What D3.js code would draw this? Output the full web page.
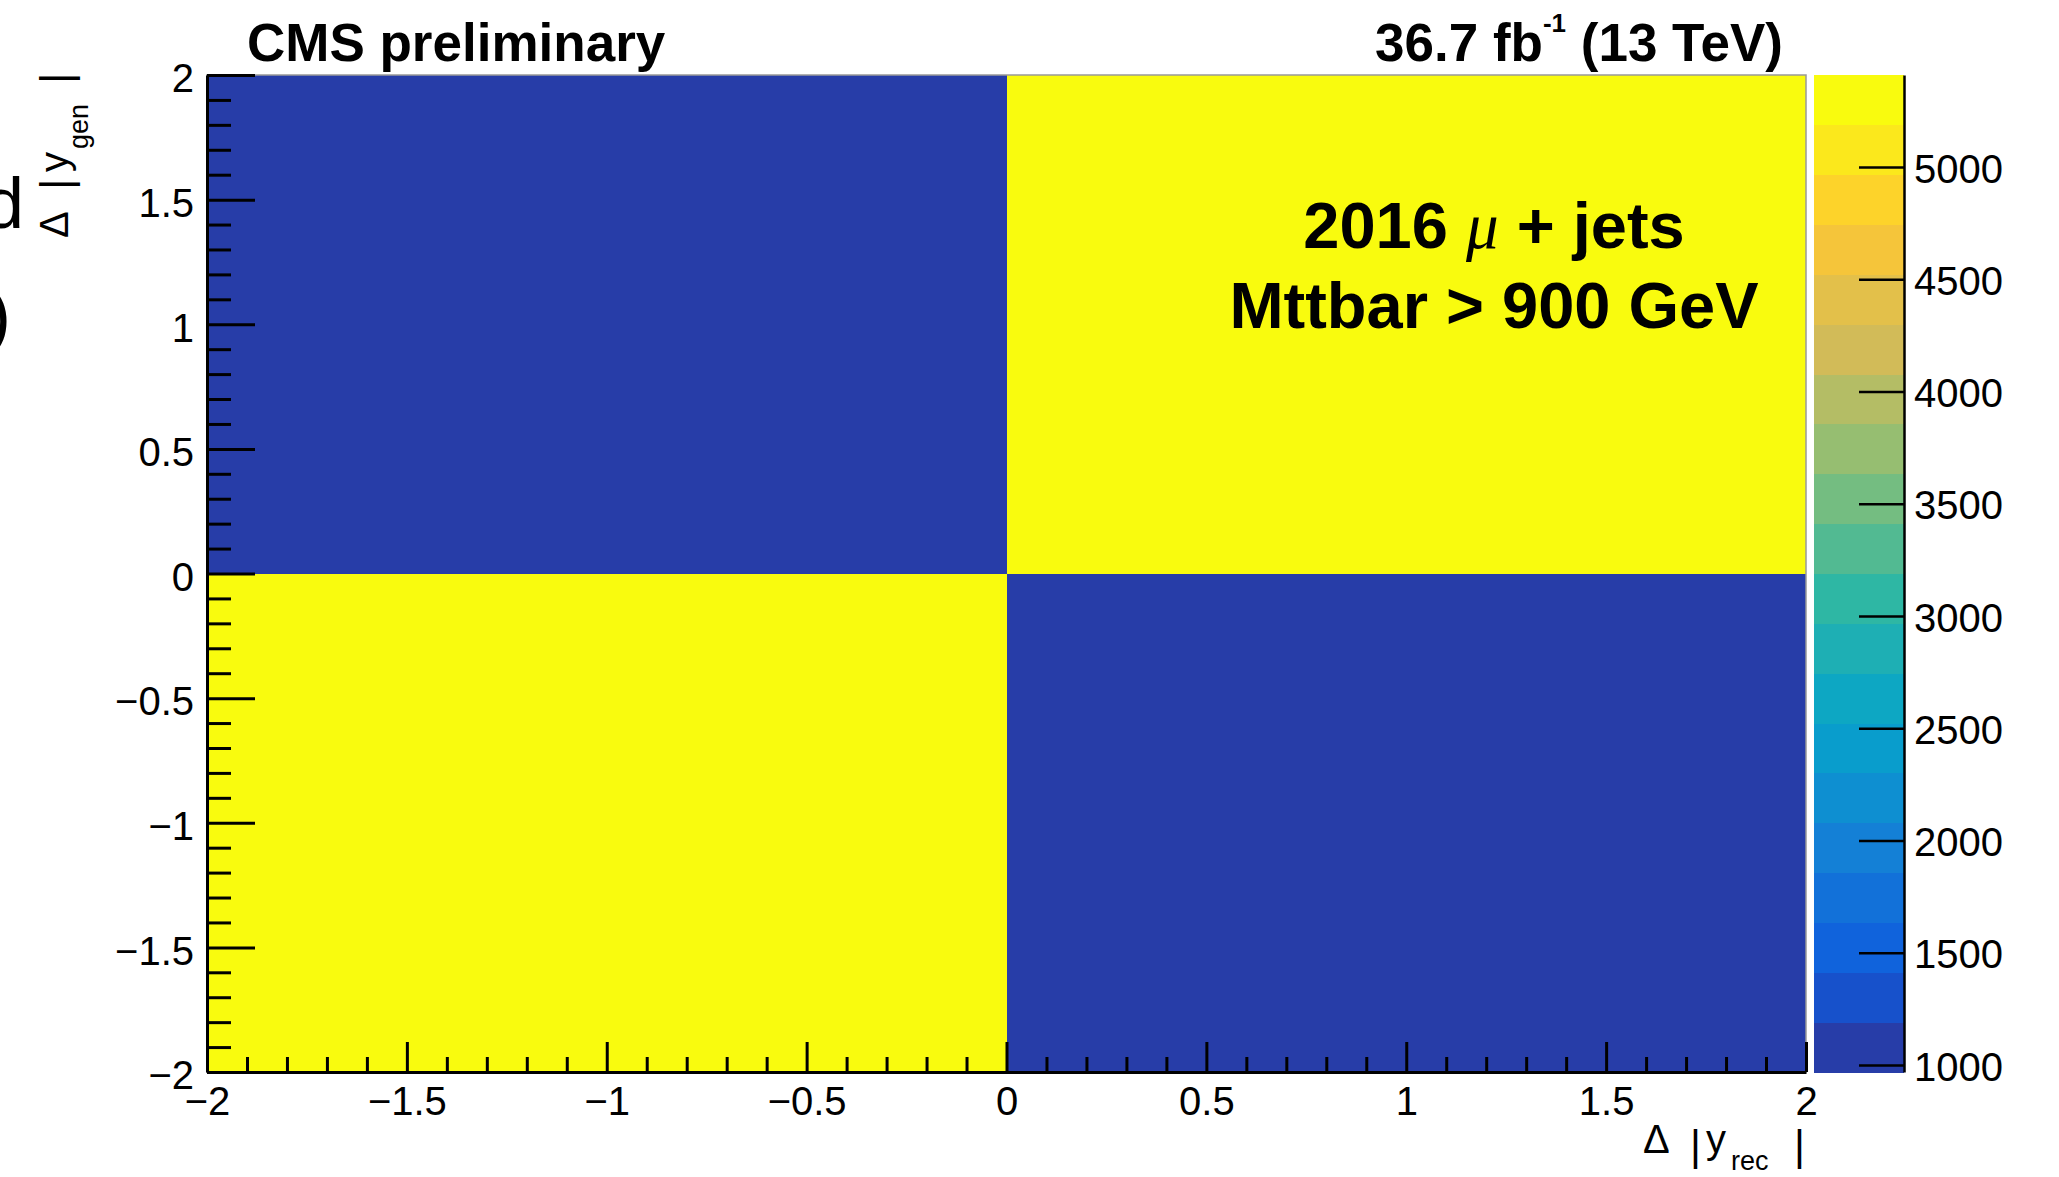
<!DOCTYPE html>
<html>
<head>
<meta charset="utf-8">
<script src="https://cdn.jsdelivr.net/npm/d3@7"></script>
<style>
  body { margin: 0; background: #fff; }
  text { font-family: "Liberation Sans", Arial, Helvetica, sans-serif; }
</style>
</head>
<body>
<script>
/* Data */
const X_EDGES = [-2, 0, 2];
const Y_EDGES = [-2, 0, 2];
// bin contents, [yBin][xBin]
const BIN_CONTENT = [
  [5410, 969],
  [969, 5410]
];
const X_TICKS = [-2, -1.5, -1, -0.5, 0, 0.5, 1, 1.5, 2];
const Y_TICKS = [-2, -1.5, -1, -0.5, 0, 0.5, 1, 1.5, 2];
const Z_TICKS = [1000, 1500, 2000, 2500, 3000, 3500, 4000, 4500, 5000];
const N_CONTOURS = 20;

/* ROOT kBird palette */
const BIRD_STOPS = [0.0, 0.125, 0.25, 0.375, 0.5, 0.625, 0.75, 0.875, 1.0];
const BIRD_R = [0.2082, 0.0592, 0.0780, 0.0232, 0.1802, 0.5301, 0.8186, 0.9956, 0.9764];
const BIRD_G = [0.1664, 0.3599, 0.5041, 0.6419, 0.7178, 0.7492, 0.7328, 0.7862, 0.9832];
const BIRD_B = [0.5293, 0.8684, 0.8385, 0.7914, 0.6425, 0.4662, 0.3499, 0.1968, 0.0539];

/* Layout */
const WIDTH = 2059;
const HEIGHT = 1177;
const PLOT_LEFT = 207, PLOT_RIGHT = 1806, PLOT_TOP = 75, PLOT_BOTTOM = 1072;
const BAR_LEFT = 1814, BAR_RIGHT = 1904;
const TICK_FONT = 40;

const bird = d3.scaleLinear()
  .domain(BIRD_STOPS)
  .range(BIRD_STOPS.map((s, i) => d3.rgb(BIRD_R[i] * 255, BIRD_G[i] * 255, BIRD_B[i] * 255).toString()))
  .interpolate(d3.interpolateRgb);

const allValues = BIN_CONTENT.flat();
const [zMin, zMax] = d3.extent(allValues);

const bandColor = (k) => {
  const idx = Math.floor((k + 0.99) * 255 / N_CONTOURS);
  return bird(Math.min(idx, 254) / 254);
};
const valueColor = (v) => {
  let k = Math.floor(0.01 + (v - zMin) * N_CONTOURS / (zMax - zMin));
  k = Math.max(0, Math.min(N_CONTOURS - 1, k));
  return bandColor(k);
};

const svg = d3.select("body").append("svg")
  .attr("width", WIDTH)
  .attr("height", HEIGHT);

const x = d3.scaleLinear().domain([-2, 2]).range([PLOT_LEFT, PLOT_RIGHT]);
const y = d3.scaleLinear().domain([-2, 2]).range([PLOT_BOTTOM, PLOT_TOP]);
const z = d3.scaleLinear().domain([zMin, zMax]).range([PLOT_BOTTOM, PLOT_TOP]);
const fmt = d3.format("~g");

/* Cells */
const cells = [];
BIN_CONTENT.forEach((row, yi) => row.forEach((v, xi) => cells.push({xi, yi, v})));
svg.append("g").selectAll("rect")
  .data(cells)
  .enter()
  .append("rect")
  .attr("x", (d) => x(X_EDGES[d.xi]))
  .attr("y", (d) => y(Y_EDGES[d.yi + 1]))
  .attr("width", (d) => x(X_EDGES[d.xi + 1]) - x(X_EDGES[d.xi]))
  .attr("height", (d) => y(Y_EDGES[d.yi]) - y(Y_EDGES[d.yi + 1]))
  .attr("fill", (d) => valueColor(d.v))
  .attr("shape-rendering", "crispEdges");

svg.append("rect")
  .attr("x", PLOT_LEFT).attr("y", PLOT_TOP)
  .attr("width", PLOT_RIGHT - PLOT_LEFT).attr("height", PLOT_BOTTOM - PLOT_TOP)
  .attr("fill", "none").attr("stroke", "#999").attr("stroke-width", 1.5);

/* Axes */
const isMajor = (v) => Math.abs(v * 2 - Math.round(v * 2)) < 1e-6;
const minorTicks = d3.ticks(-2, 2, 40).filter((v) => !isMajor(v));

const styleAxis = (g, width) => {
  g.attr("font-family", null).attr("font-size", null);
  g.selectAll("line").attr("stroke", "#000").attr("stroke-width", width);
  g.selectAll("path.domain").attr("stroke", "#000").attr("stroke-width", width);
  g.selectAll("text").attr("font-size", TICK_FONT).attr("fill", "#000");
};

svg.append("g")
   .attr("transform", "translate(0," + PLOT_BOTTOM + ")")
   .call(d3.axisBottom(x).tickValues(minorTicks).tickSizeInner(-15).tickSizeOuter(0).tickFormat(""))
   .call((g) => { g.select(".domain").remove(); styleAxis(g, 3); });
svg.append("g")
   .attr("transform", "translate(0," + PLOT_BOTTOM + ")")
   .call(d3.axisBottom(x).tickValues(X_TICKS).tickSizeInner(-30).tickSizeOuter(0).tickPadding(15).tickFormat(fmt))
   .call((g) => styleAxis(g, 3));

svg.append("g")
   .attr("transform", "translate(" + PLOT_LEFT + ",0)")
   .call(d3.axisLeft(y).tickValues(minorTicks).tickSizeInner(-24).tickSizeOuter(0).tickFormat(""))
   .call((g) => { g.select(".domain").remove(); styleAxis(g, 3); });
svg.append("g")
   .attr("transform", "translate(" + PLOT_LEFT + ",0)")
   .call(d3.axisLeft(y).tickValues(Y_TICKS).tickSizeInner(-48).tickSizeOuter(0).tickPadding(13).tickFormat(fmt))
   .call((g) => { styleAxis(g, 3); g.selectAll("text").attr("dy", "0.42em"); });

/* Colour bar */
const levels = d3.range(N_CONTOURS + 1).map((k) => zMin + k * (zMax - zMin) / N_CONTOURS);
svg.append("g").selectAll("rect")
  .data(d3.range(N_CONTOURS))
  .enter()
  .append("rect")
  .attr("x", BAR_LEFT)
  .attr("width", BAR_RIGHT - BAR_LEFT)
  .attr("y", (k) => z(levels[k + 1]))
  .attr("height", (k) => z(levels[k]) - z(levels[k + 1]) + 0.5)
  .attr("fill", (k) => bandColor(k))
  .attr("shape-rendering", "crispEdges");

svg.append("g")
   .attr("transform", "translate(" + BAR_RIGHT + ",0)")
   .call(d3.axisRight(z).tickValues(Z_TICKS).tickSizeInner(-45).tickSizeOuter(0).tickPadding(10).tickFormat(d3.format("d")))
   .call((g) => { styleAxis(g, 2.5); g.selectAll("text").attr("dy", "0.38em"); });

/* Titles */
svg.append("text")
   .attr("x", 247).attr("y", 61)
   .attr("font-size", 53).attr("font-weight", "bold")
   .text("CMS preliminary");

const lumi = svg.append("text")
   .attr("x", 1783).attr("y", 61)
   .attr("text-anchor", "end")
   .attr("font-size", 53).attr("font-weight", "bold");
lumi.append("tspan").text("36.7 fb");
lumi.append("tspan").attr("font-size", 26).attr("dy", -29).text("-1");
lumi.append("tspan").attr("dy", 29).text(" (13 TeV)");

const label1 = svg.append("text")
   .attr("x", 1494).attr("y", 248)
   .attr("text-anchor", "middle")
   .attr("font-size", 65).attr("font-weight", "bold");
label1.append("tspan").text("2016 ");
label1.append("tspan")
   .attr("font-family", "'Liberation Serif', 'DejaVu Serif', serif")
   .attr("font-style", "italic").attr("font-weight", "normal")
   .text("\u03bc");
label1.append("tspan").text(" + jets");

svg.append("text")
   .attr("x", 1494).attr("y", 328)
   .attr("text-anchor", "middle")
   .attr("font-size", 65).attr("font-weight", "bold")
   .text("Mttbar > 900 GeV");

/* x-axis title */
const xTitle = svg.append("text").attr("font-size", 40);
xTitle.append("tspan").attr("x", 1643).attr("y", 1153).text("\u0394");
xTitle.append("tspan").attr("x", 1690).attr("y", 1160).attr("font-size", 42).text("|");
xTitle.append("tspan").attr("x", 1706).attr("y", 1153).text("y");
xTitle.append("tspan").attr("x", 1731).attr("y", 1170).attr("font-size", 27).text("rec");
xTitle.append("tspan").attr("x", 1794).attr("y", 1160).attr("font-size", 42).text("|");

/* y-axis title */
const yTitle = svg.append("text")
   .attr("transform", "translate(68,0) rotate(-90)")
   .attr("font-size", 40);
yTitle.append("tspan").attr("x", -238).attr("y", 0).text("\u0394");
yTitle.append("tspan").attr("x", -190).attr("y", 3).attr("font-size", 44).text("|");
yTitle.append("tspan").attr("x", -172).attr("y", 0).text("y");
yTitle.append("tspan").attr("x", -149).attr("y", 20).attr("font-size", 27).text("gen");
yTitle.append("tspan").attr("x", -84).attr("y", 3).attr("font-size", 44).text("|");

/* cut-off characters at the left edge */
svg.append("text").attr("x", -16).attr("y", 228).attr("font-size", 72).text("d");
svg.append("text").attr("x", -13).attr("y", 340).attr("font-size", 72).text(")");
</script>
</body>
</html>
